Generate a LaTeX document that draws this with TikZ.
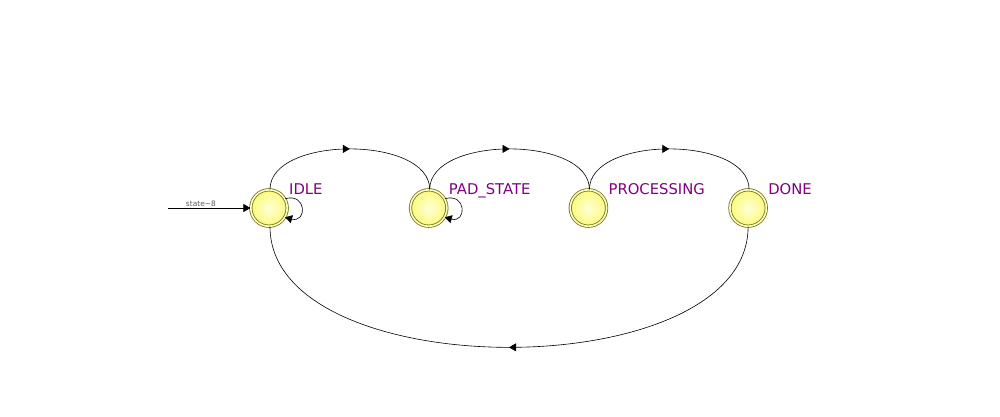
\documentclass[tikz,border=0pt]{standalone}
\usepackage{fontspec}
\setmainfont{DejaVu Sans}
\usetikzlibrary{arrows.meta,positioning,decorations.markings}

\definecolor{statelbl}{RGB}{128,0,128}
\definecolor{stateline}{RGB}{115,115,10}
\definecolor{stategap}{RGB}{255,255,205}
\definecolor{statein}{RGB}{255,255,215}
\definecolor{stateout}{RGB}{250,250,125}
\definecolor{initlbl}{RGB}{90,90,90}

\begin{document}
\begin{tikzpicture}[
        x=1pt, y=1pt,
        node distance=122.5pt,
        state/.style={circle, draw=stateline, line width=0.8pt, double=stategap, double distance=1.6pt,
            inner color=statein, outer color=stateout, minimum size=36.4pt, inner sep=0pt},
        lbl/.style={text=statelbl, font=\fontsize{14.8}{16}\selectfont, inner sep=0pt, anchor=base west},
        edge/.style={draw, line width=0.6pt},
        midarrow/.style={postaction={decorate}, decoration={markings,
            mark=at position 0.5 with {\arrow{Triangle[length=7pt,width=8pt]}}}},
        tip/.style={-{Triangle[length=7pt,width=8pt]}}
    ]
    \useasboundingbox (0,0) rectangle (1000,416);

    % Nodes
    \node[state] (idle) at (269,208) {};
    \node[state] (pad)[right=of idle] {};
    \node[state] (proc)[right=of pad] {};
    \node[state] (done)[right=of proc] {};

    \node[lbl] (idlelbl) at ([xshift=20pt,yshift=14pt]idle.center) {IDLE};
    \node[lbl] (padlbl) at ([xshift=20pt,yshift=14pt]pad.center) {PAD\_STATE};
    \node[lbl] (proclbl) at ([xshift=20pt,yshift=14pt]proc.center) {PROCESSING};
    \node[lbl] (donelbl) at ([xshift=20pt,yshift=14pt]done.center) {DONE};

    \coordinate (init) at (168,208);

    % Edges
    \draw[edge,tip] (init) -- node[pos=0.4, above, inner sep=1.5pt, text=initlbl,
        font=\fontsize{7.5}{8}\selectfont] {state\textasciitilde8} (idle.west);

    \draw[edge,midarrow] ([xshift=1pt]idle.north) .. controls +(0,54) and +(0,54) .. ([xshift=1pt]pad.north);
    \draw[edge,midarrow] ([xshift=1pt]pad.north) .. controls +(0,54) and +(0,54) .. ([xshift=1pt]proc.north);
    \draw[edge,midarrow] ([xshift=1pt]proc.north) .. controls +(0,54) and +(0,54) .. ([xshift=1pt]done.north);
    \draw[edge,midarrow] (done.south) .. controls +(0,-161) and +(0,-161) .. ([xshift=1pt]idle.south);

    \draw[edge,tip] (idle.30) .. controls +(22,6) and +(22,-6) .. (idle.-30);
    \draw[edge,tip] (pad.30) .. controls +(22,6) and +(22,-6) .. (pad.-30);

\end{tikzpicture}
\end{document}
